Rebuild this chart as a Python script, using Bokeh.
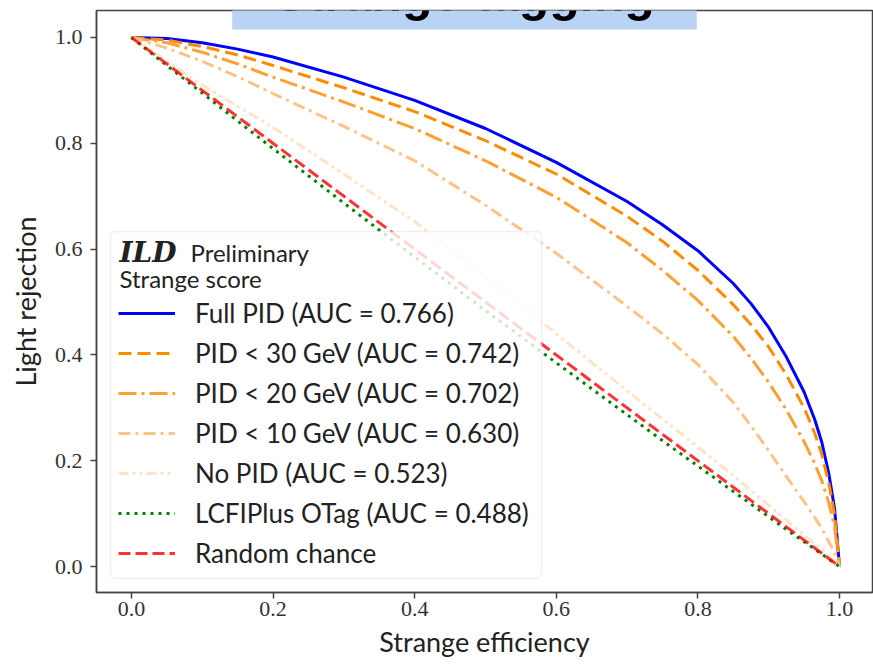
from bokeh.plotting import figure
from bokeh.models import Range1d, Legend, LegendItem, Label, BoxAnnotation
from bokeh.embed import file_html
from bokeh.resources import INLINE

# ---------------- data ----------------
eff = [0.0, 0.05, 0.1, 0.15, 0.2, 0.3, 0.4, 0.5, 0.6, 0.7, 0.75, 0.8, 0.85, 0.875,
       0.9, 0.925, 0.95, 0.965, 0.975, 0.985, 0.993, 1.0]
full_pid = [1.0, 0.998, 0.99, 0.978, 0.963, 0.925, 0.881, 0.828, 0.764, 0.69, 0.646, 0.597, 0.535, 0.497,
            0.452, 0.396, 0.33, 0.278, 0.235, 0.175, 0.11, 0.0]
pid_30 = [1.0, 0.995, 0.983, 0.967, 0.947, 0.905, 0.86, 0.805, 0.742, 0.662, 0.615, 0.56, 0.495, 0.457,
          0.415, 0.362, 0.30, 0.252, 0.212, 0.157, 0.098, 0.0]
pid_20 = [1.0, 0.99, 0.972, 0.95, 0.925, 0.878, 0.828, 0.767, 0.698, 0.612, 0.56, 0.503, 0.435, 0.394,
          0.348, 0.296, 0.236, 0.195, 0.162, 0.12, 0.075, 0.0]
pid_10 = [1.0, 0.98, 0.955, 0.926, 0.894, 0.832, 0.767, 0.683, 0.592, 0.492, 0.44, 0.382, 0.31, 0.266,
          0.219, 0.17, 0.123, 0.093, 0.072, 0.047, 0.026, 0.0]
no_pid = [1.0, 0.955, 0.91, 0.87, 0.83, 0.742, 0.652, 0.547, 0.44, 0.332, 0.279, 0.226, 0.172, 0.144,
          0.116, 0.088, 0.06, 0.043, 0.032, 0.019, 0.01, 0.0]
lcfi_otag = [1.0, 0.947, 0.895, 0.842, 0.79, 0.687, 0.585, 0.484, 0.385, 0.287, 0.238, 0.19, 0.142, 0.118,
             0.094, 0.07, 0.047, 0.033, 0.0235, 0.014, 0.0065, 0.0]
random_x = [0.0, 1.0]
random_y = [1.0, 0.0]

series_labels = [
    "Full PID (AUC = 0.766)",
    "PID < 30 GeV (AUC = 0.742)",
    "PID < 20 GeV (AUC = 0.702)",
    "PID < 10 GeV (AUC = 0.630)",
    "No PID (AUC = 0.523)",
    "LCFIPlus OTag (AUC = 0.488)",
    "Random chance",
]
ticks = [0.0, 0.2, 0.4, 0.6, 0.8, 1.0]
tick_labels = ["0.0", "0.2", "0.4", "0.6", "0.8", "1.0"]

# ---------------- layout ----------------
W, H = 873, 665
FL, FR, FT, FB = 96, 872, 10, 592          # frame edges in canvas pixels
X0, X1 = -0.0494, 1.0466
Y0, Y1 = -0.049, 1.051


def px2x(px):
    return X0 + (px - FL) / (FR - FL) * (X1 - X0)


def py2y(py):
    return Y1 - (py - FT) / (FB - FT) * (Y1 - Y0)


p = figure(width=W, height=H, output_backend="svg", toolbar_location=None,
           x_range=Range1d(X0, X1), y_range=Range1d(Y0, Y1),
           min_border_left=FL, min_border_right=W - FR,
           min_border_top=FT, min_border_bottom=H - FB, title=None)
p.background_fill_color = "white"
p.border_fill_color = "white"
p.grid.visible = False
p.outline_line_color = "#444444"
p.outline_line_width = 1.5

for ax in (p.xaxis, p.yaxis):
    ax.ticker = ticks
    ax.major_label_overrides = {t: l for t, l in zip(ticks, tick_labels)}
    ax.axis_line_color = "#444444"
    ax.axis_line_width = 1.5
    ax.major_tick_line_color = "#444444"
    ax.major_tick_line_width = 1.5
    ax.major_tick_out = 6
    ax.major_tick_in = 0
    ax.minor_tick_out = 0
    ax.minor_tick_in = 0
    ax.major_label_text_font = "Liberation Serif"
    ax.major_label_text_font_size = "22px"
    ax.major_label_text_color = "#333333"
    ax.axis_label_text_font = "Lato"
    ax.axis_label_text_font_size = "27px"
    ax.axis_label_text_font_style = "normal"
    ax.axis_label_text_color = "#222222"

p.xaxis.axis_label = "Strange efficiency"
p.yaxis.axis_label = "Light rejection"
p.xaxis.major_label_standoff = 3
p.xaxis.axis_label_standoff = 6
p.yaxis.major_label_standoff = 8
p.yaxis.axis_label_standoff = 10

# ---------------- curves ----------------
r_full = p.line(eff, full_pid, line_color="#0000ff", line_width=3)
r_30 = p.line(eff, pid_30, line_color="#ff8c00", line_width=3, line_dash="13 6")
r_20 = p.line(eff, pid_20, line_color="#ffa033", line_width=3, line_dash="18 5 3 5")
r_10 = p.line(eff, pid_10, line_color="#ffc285", line_width=3, line_dash="12 5 3 5")
r_no = p.line(eff, no_pid, line_color="#ffe3c6", line_width=3, line_dash="10 4 3 4 3 4")
r_lc = p.line(eff, lcfi_otag, line_color="#008000", line_width=3, line_dash="3 5")
r_rd = p.line(random_x, random_y, line_color="#ff0000", line_alpha=0.8, line_width=3, line_dash="12 5")

# ---------------- legend ----------------
box = BoxAnnotation(left=px2x(110), right=px2x(541), top=py2y(231), bottom=py2y(578),
                    fill_color="white", fill_alpha=0.8, line_color="#cccccc",
                    line_width=1.5, border_radius=5)
p.add_layout(box)

renderers = [r_full, r_30, r_20, r_10, r_no, r_lc, r_rd]
legend = Legend(items=[LegendItem(label=l, renderers=[r]) for l, r in zip(series_labels, renderers)],
                location=(22, 19), orientation="vertical",
                glyph_width=57, glyph_height=40, label_height=40, spacing=0,
                label_standoff=20, padding=0, margin=0,
                background_fill_alpha=0, border_line_alpha=0,
                label_text_font="Lato", label_text_font_size="26px",
                label_text_color="#222222")
p.add_layout(legend)

hdr_font = "Lato"
p.add_layout(Label(x=px2x(119), y=py2y(252), text="ILD", text_font="DejaVu Serif",
                   text_font_style="bold italic", text_font_size="28px",
                   text_baseline="middle", text_color="#222222"))
p.add_layout(Label(x=px2x(190), y=py2y(252), text="Preliminary", text_font=hdr_font,
                   text_font_size="24px", text_baseline="middle", text_color="#222222"))
p.add_layout(Label(x=px2x(119), y=py2y(278), text="Strange score", text_font=hdr_font,
                   text_font_size="24px", text_baseline="middle", text_color="#222222"))

# ---------------- title banner ----------------
# padding order here is (left, right, top, bottom)
p.add_layout(Label(x=px2x(464), y=py2y(29), text="Strange tagging",
                   text_font="Liberation Sans", text_font_style="bold",
                   text_font_size="50px", text_align="center",
                   text_baseline="bottom", text_color="black",
                   background_fill_color="#b9d3f5", padding=(42, 42, 10, 8)))

open("out.html", "w").write(file_html(p, INLINE))
